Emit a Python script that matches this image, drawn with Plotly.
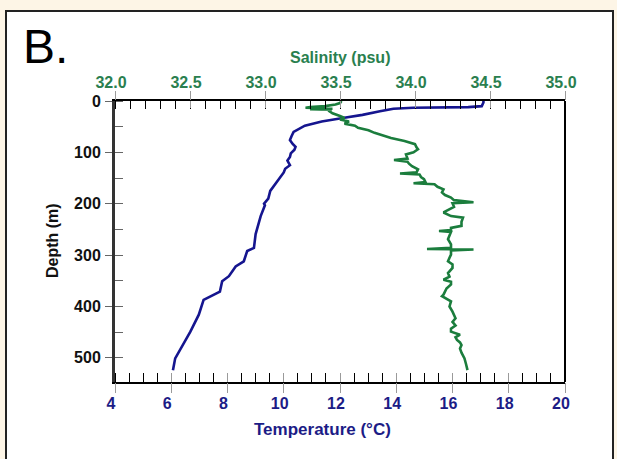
import plotly.graph_objects as go

# ---------------- data ----------------
temp_depth_m = [0, 3, 10, 12, 13, 15, 20, 27, 33, 40,
                48, 54, 60, 68, 76, 83, 89, 95, 102, 109,
                116, 125, 132, 139, 147, 160, 175, 190, 197, 200,
                203, 224, 259, 286, 292, 312, 322, 341, 351, 371,
                387, 416, 449, 478, 501, 524]
temperature_c = [17.10, 17.10, 17.04, 16.56, 14.60, 13.90, 13.42, 12.80, 12.10, 11.35,
                 10.75, 10.55, 10.35, 10.28, 10.22, 10.31, 10.42, 10.38, 10.25, 10.22,
                 10.13, 10.22, 10.05, 10.00, 9.89, 9.70, 9.52, 9.45, 9.35, 9.30,
                 9.33, 9.18, 9.00, 8.94, 8.70, 8.58, 8.29, 8.05, 7.81, 7.73,
                 7.15, 6.98, 6.68, 6.38, 6.14, 6.06]

sal_depth_m = [0, 4, 7, 10, 12, 13, 14, 15, 16, 17,
               20, 24, 29, 33, 36, 40, 44, 48, 52, 57,
               62, 67, 72, 78, 84, 90, 94, 100, 104, 112,
               115, 118, 122, 127, 133, 139, 141, 143, 148, 152,
               158, 160, 162, 167, 172, 178, 183, 188, 193, 197,
               199, 206, 212, 217, 224, 227, 235, 243, 247, 251,
               253, 255, 262, 269, 279, 286, 288, 289, 291, 299,
               305, 312, 318, 325, 335, 342, 348, 352, 357, 365,
               377, 380, 390, 400, 410, 417, 423, 430, 437, 443,
               449, 455, 460, 465, 470, 475, 482, 490, 501, 512,
               524]
salinity_psu = [33.51, 33.50, 33.47, 33.40, 33.30, 33.27, 33.36, 33.45, 33.30, 33.44,
                33.43, 33.45, 33.50, 33.53, 33.50, 33.56, 33.53, 33.60, 33.62, 33.69,
                33.73, 33.78, 33.84, 33.93, 34.00, 34.01, 34.02, 33.99, 33.94, 33.95,
                33.86, 33.95, 33.96, 33.98, 34.02, 34.01, 33.90, 34.03, 34.04, 34.06,
                34.07, 33.99, 34.13, 34.15, 34.19, 34.18, 34.20, 34.24, 34.26, 34.39,
                34.25, 34.26, 34.22, 34.19, 34.24, 34.32, 34.31, 34.31, 34.24, 34.24,
                34.16, 34.24, 34.23, 34.22, 34.24, 34.24, 34.08, 34.39, 34.24, 34.24,
                34.23, 34.22, 34.25, 34.25, 34.22, 34.23, 34.19, 34.24, 34.24, 34.21,
                34.19, 34.18, 34.24, 34.23, 34.25, 34.26, 34.27, 34.25, 34.27, 34.24,
                34.24, 34.30, 34.27, 34.28, 34.30, 34.31, 34.30, 34.31, 34.33, 34.34,
                34.35]

temp_ticks = [4, 6, 8, 10, 12, 14, 16, 18, 20]
sal_ticks = [32.0, 32.5, 33.0, 33.5, 34.0, 34.5, 35.0]
sal_tick_text = ["32.0", "32.5", "33.0", "33.5", "34.0", "34.5", "35.0"]
depth_ticks = [0, 100, 200, 300, 400, 500]

# ---------------- styling ----------------
W, H = 617, 459
ML, MR, MT, MB = 115, 52, 101, 77
PW, PH = W - ML - MR, H - MT - MB
BLUE_LINE = "#15158f"
BLUE_TXT = "#1c1c86"
GREEN_LINE = "#1b7d3d"
GREEN_TXT = "#2a7f4f"
FONT = "Liberation Sans, Arial, sans-serif"
TICK_GREY = "#9a9a9a"

def px_x(p):
    return (p - ML) / PW

def px_y(p):
    return (H - MB - p) / PH

T_RANGE = [4, 20]
S_RANGE = [32, 35]
D_RANGE = [547, 0]

fig = go.Figure()
fig.add_trace(go.Scatter(x=temperature_c, y=temp_depth_m, mode="lines",
                         line=dict(color=BLUE_LINE, width=2.6),
                         xaxis="x", yaxis="y", showlegend=False))
fig.add_trace(go.Scatter(x=salinity_psu, y=sal_depth_m, mode="lines",
                         line=dict(color=GREEN_LINE, width=2.6),
                         xaxis="x2", yaxis="y", showlegend=False))

# invisible helper traces so the overlay tick axes are drawn
for xa, ya, xv in [("x3", "y", T_RANGE[0] + 1), ("x5", "y", T_RANGE[0] + 1),
                   ("x4", "y", S_RANGE[0] + 0.2), ("x6", "y", S_RANGE[0] + 0.2),
                   ("x", "y2", T_RANGE[0] + 1)]:
    fig.add_trace(go.Scatter(x=[xv], y=[10], mode="markers",
                             marker=dict(size=1, opacity=0),
                             xaxis=xa, yaxis=ya, hoverinfo="skip",
                             showlegend=False))

tickfont_blue = dict(family=FONT, size=16, color=BLUE_TXT, weight="bold")
tickfont_green = dict(family=FONT, size=16, color=GREEN_TXT, weight="bold")
tickfont_black = dict(family=FONT, size=16, color="#111111", weight="bold")

common = dict(showgrid=False, zeroline=False, automargin=False, fixedrange=True)


def tick_overlay(base, rng, side, vals, where, length):
    return dict(range=rng, overlaying="x", side=side, anchor="y",
                tickmode="array", tickvals=vals, showticklabels=False,
                ticks=where, ticklen=length, tickcolor=TICK_GREY, tickwidth=1,
                showline=False, **common)


fig.update_layout(
    width=W, height=H,
    margin=dict(l=ML, r=MR, t=MT, b=MB, pad=0, autoexpand=False),
    paper_bgcolor="#fdf5e6",
    plot_bgcolor="white",
    showlegend=False,
    # bottom: temperature axis (labels + minor inside ticks)
    xaxis=dict(range=T_RANGE, side="bottom", anchor="y",
               showline=True, linecolor="black", linewidth=2,
               tickmode="array", tickvals=temp_ticks,
               ticks="outside", ticklen=4, tickcolor=TICK_GREY, tickwidth=1,
               minor=dict(dtick=0.5, tick0=4, ticks="inside", ticklen=9,
                          tickcolor="black", tickwidth=1, showgrid=False),
               tickfont=tickfont_blue, ticklabelshift=-4, ticklabelstandoff=2,
               **common),
    xaxis3=tick_overlay("x", T_RANGE, "bottom", temp_ticks, "outside", 10),
    xaxis5=tick_overlay("x", T_RANGE, "bottom", temp_ticks, "inside", 9),
    # top: salinity axis
    xaxis2=dict(range=S_RANGE, overlaying="x", side="top", anchor="y",
                showline=True, linecolor="black", linewidth=2,
                tickmode="array", tickvals=sal_ticks, ticktext=sal_tick_text,
                ticks="outside", ticklen=4, tickcolor=TICK_GREY, tickwidth=1,
                minor=dict(dtick=0.1, tick0=32, ticks="inside", ticklen=8,
                           tickcolor="black", tickwidth=1, showgrid=False),
                tickfont=tickfont_green, ticklabelshift=-4, ticklabelstandoff=1,
                **common),
    xaxis4=tick_overlay("x", S_RANGE, "top", sal_ticks, "outside", 9),
    xaxis6=tick_overlay("x", S_RANGE, "top", sal_ticks, "inside", 7),
    # depth axis
    yaxis=dict(range=D_RANGE, side="left", anchor="x",
               showline=True, linecolor="#333333", linewidth=3,
               tickmode="array", tickvals=depth_ticks,
               ticks="outside", ticklen=7, tickcolor="#666666", tickwidth=1,
               minor=dict(dtick=50, tick0=0, ticks="inside", ticklen=8,
                          tickcolor="#666666", tickwidth=1, showgrid=False),
               ticklabelstandoff=1, tickfont=tickfont_black, **common),
    yaxis2=dict(range=D_RANGE, overlaying="y", side="left", anchor="x",
                tickmode="array", tickvals=depth_ticks, showticklabels=False,
                ticks="inside", ticklen=8, tickcolor="#666666", tickwidth=1,
                showline=False, **common),
)

fig.add_shape(type="rect", xref="paper", yref="paper", layer="below",
              x0=px_x(6), x1=px_x(613), y0=px_y(475), y1=px_y(11),
              fillcolor="white", line=dict(color="#222222", width=2))
fig.add_shape(type="line", xref="paper", yref="paper",
              x0=1, x1=1, y0=0, y1=1, line=dict(color="black", width=2))

fig.add_annotation(text="B.", xref="paper", yref="paper",
                   x=px_x(21), y=px_y(47), xanchor="left", yanchor="middle",
                   showarrow=False,
                   font=dict(family=FONT, size=48, color="black"))
fig.add_annotation(text="Salinity (psu)", xref="paper", yref="paper",
                   x=px_x(340), y=px_y(58), xanchor="center", yanchor="middle",
                   showarrow=False,
                   font=dict(family=FONT, size=16, color=GREEN_TXT, weight="bold"))
fig.add_annotation(text="Temperature (°C)", xref="paper", yref="paper",
                   x=px_x(322), y=px_y(429), xanchor="center", yanchor="middle",
                   showarrow=False,
                   font=dict(family=FONT, size=17, color=BLUE_TXT, weight="bold"))
fig.add_annotation(text="Depth (m)", xref="paper", yref="paper",
                   x=px_x(52), y=px_y(240), xanchor="center", yanchor="middle",
                   textangle=-90, showarrow=False,
                   font=dict(family=FONT, size=16, color="#111111", weight="bold"))

fig.write_html("out.html",
               config={"displayModeBar": False, "staticPlot": True},
               post_script="document.body.style.margin='0';"
                           "document.body.style.overflow='hidden';")
